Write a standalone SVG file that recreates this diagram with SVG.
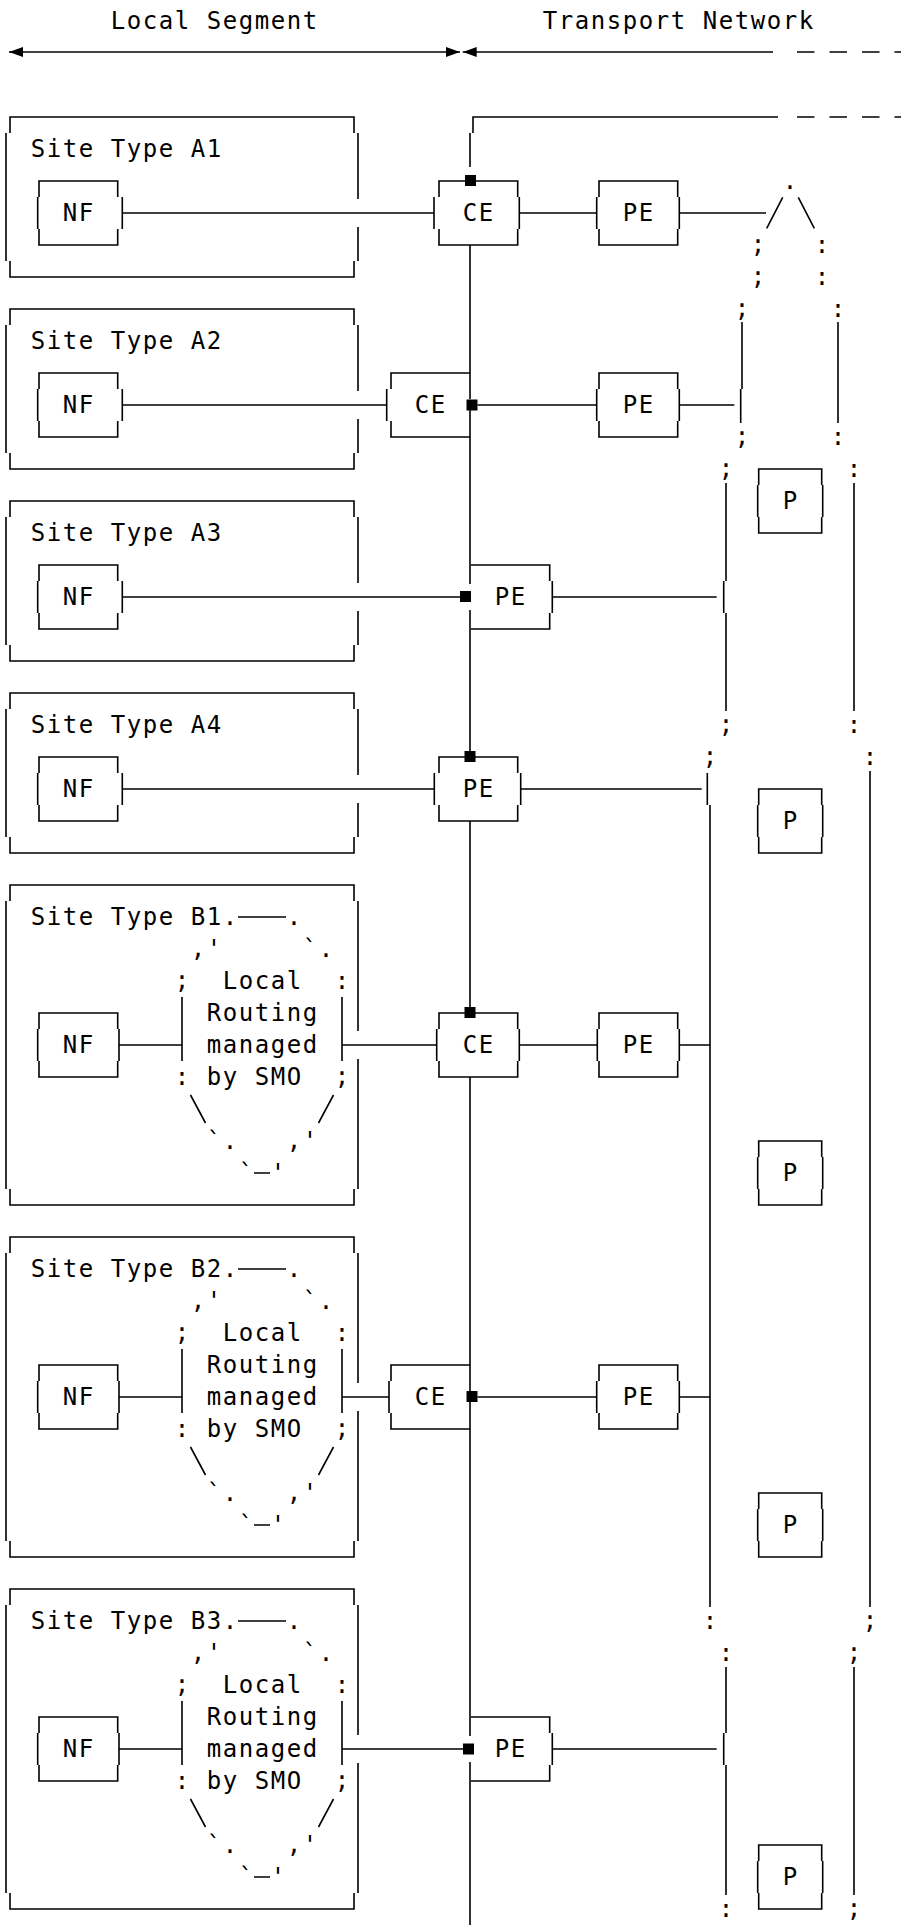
<svg xmlns="http://www.w3.org/2000/svg" width="901" height="1925" viewBox="0 0 901 1925">
<defs>
<style>
.ln{fill:none;stroke:#000;stroke-width:1.6}
.dash{fill:none;stroke:#000;stroke-width:1.6;stroke-dasharray:17.5 15}
.t{font-family:"DejaVu Sans Mono","Liberation Mono",monospace;font-size:24px;letter-spacing:1.55px;fill:#000}
.mk{fill:#000}
</style>
<marker id="ah" viewBox="0 0 14 10" refX="14" refY="5" markerWidth="14" markerHeight="10" markerUnits="userSpaceOnUse" orient="auto-start-reverse"><path d="M0,0 L14,5 L0,10 Z" fill="#000"/></marker>
</defs>
<rect width="901" height="1925" fill="#fff"/>

<g id="header">
<text class="t" x="110.8" y="29.4">Local Segment</text>
<text class="t" x="542.8" y="29.4">Transport Network</text>
<path class="ln" d="M9,52H460" marker-start="url(#ah)" marker-end="url(#ah)"/>
<path class="ln" d="M462.7,52H773" marker-start="url(#ah)"/>
<path class="dash" d="M797,52H901"/>
</g>

<!-- Site A1 -->
<g id="site-a1">
<path class="ln" d="M10,133V117H354V133M10,261V277H354V261M6,133V261M358,133V199M358,227V261"/>
<text class="t" x="30.8" y="157.4">Site Type A1</text>
</g>
<g id="nf-a1">
<path class="ln" d="M39,197V181H117.7V197M39,229V245H117.7V229M37.7,197V229M122.3,197V229"/>
<text class="t" x="62.8" y="221.4">NF</text>
</g>
<g id="ce-a1">
<path class="ln" d="M439,197V181H517.7V197M439,229V245H517.7V229M434,197V229M519.3,197V229"/>
<text class="t" x="462.8" y="221.4">CE</text>
</g>
<g id="pe-a1">
<path class="ln" d="M599,197V181H677.7V197M599,229V245H677.7V229M596.7,197V229M679.3,197V229"/>
<text class="t" x="622.8" y="221.4">PE</text>
</g>

<!-- Site A2 -->
<g id="site-a2">
<path class="ln" d="M10,325V309H354V325M10,453V469H354V453M6,325V453M358,325V391M358,419V453"/>
<text class="t" x="30.8" y="349.4">Site Type A2</text>
</g>
<g id="nf-a2">
<path class="ln" d="M39,389V373H117.7V389M39,421V437H117.7V421M37.7,389V421M122.3,389V421"/>
<text class="t" x="62.8" y="413.4">NF</text>
</g>
<g id="ce-a2">
<path class="ln" d="M391,389V373H470M391,421V437H470M386.7,389V421"/>
<text class="t" x="414.8" y="413.4">CE</text>
</g>
<g id="pe-a2">
<path class="ln" d="M599,389V373H677.7V389M599,421V437H677.7V421M596.7,389V421M679.3,389V421"/>
<text class="t" x="622.8" y="413.4">PE</text>
</g>

<!-- Site A3 -->
<g id="site-a3">
<path class="ln" d="M10,517V501H354V517M10,645V661H354V645M6,517V645M358,517V583M358,611V645"/>
<text class="t" x="30.8" y="541.4">Site Type A3</text>
</g>
<g id="nf-a3">
<path class="ln" d="M39,581V565H117.7V581M39,613V629H117.7V613M37.7,581V613M122.3,581V613"/>
<text class="t" x="62.8" y="605.4">NF</text>
</g>
<g id="pe-a3">
<path class="ln" d="M471,565H549.7V581M471,629H549.7V613M552.3,581V613"/>
<text class="t" x="494.8" y="605.4">PE</text>
</g>

<!-- Site A4 -->
<g id="site-a4">
<path class="ln" d="M10,709V693H354V709M10,837V853H354V837M6,709V837M358,709V775M358,803V837"/>
<text class="t" x="30.8" y="733.4">Site Type A4</text>
</g>
<g id="nf-a4">
<path class="ln" d="M39,773V757H117.7V773M39,805V821H117.7V805M37.7,773V805M122.3,773V805"/>
<text class="t" x="62.8" y="797.4">NF</text>
</g>
<g id="pe-a4">
<path class="ln" d="M439,773V757H517.7V773M439,805V821H517.7V805M434.3,773V805M520.7,773V805"/>
<text class="t" x="462.8" y="797.4">PE</text>
</g>

<!-- Site B1 -->
<g id="site-b1">
<path class="ln" d="M10,901V885H354V901M10,1189V1205H354V1189M6,901V1189M358,901V1031M358,1059V1189"/>
<text class="t" x="30.8" y="925.4">Site Type B1</text>
</g>
<g id="nf-b1">
<path class="ln" d="M39,1029V1013H117.7V1029M39,1061V1077H117.7V1061M37.7,1029V1061M119,1029V1061"/>
<text class="t" x="62.8" y="1053.4">NF</text>
</g>
<g id="local-routing-b1">
<path class="ln" d="M238,917H286M182,997V1061M342,997V1061M190.5,1095L205.5,1123M333.5,1095L318.5,1123M254,1173H270"/>
<text class="t" x="222.8" y="925.4">.</text><text class="t" x="286.8" y="925.4">.</text>
<text class="t" x="190.8" y="957.4">,</text><text class="t" x="206.8" y="957.4">'</text><text class="t" x="302.8" y="957.4">`</text><text class="t" x="318.8" y="957.4">.</text>
<text class="t" x="174.8" y="989.4">;</text><text class="t" x="222.8" y="989.4">Local</text><text class="t" x="334.8" y="989.4">:</text>
<text class="t" x="206.8" y="1021.4">Routing</text>
<text class="t" x="206.8" y="1053.4">managed</text>
<text class="t" x="174.8" y="1085.4">:</text><text class="t" x="206.8" y="1085.4">by SMO</text><text class="t" x="334.8" y="1085.4">;</text>
<text class="t" x="206.8" y="1149.4">`</text><text class="t" x="222.8" y="1149.4">.</text><text class="t" x="286.8" y="1149.4">,</text><text class="t" x="302.8" y="1149.4">'</text>
<text class="t" x="238.8" y="1181.4">`</text><text class="t" x="270.8" y="1181.4">'</text>
</g>
<g id="ce-b1">
<path class="ln" d="M439,1029V1013H517.7V1029M439,1061V1077H517.7V1061M436.7,1029V1061M519.3,1029V1061"/>
<text class="t" x="462.8" y="1053.4">CE</text>
</g>
<g id="pe-b1">
<path class="ln" d="M599,1029V1013H677.7V1029M599,1061V1077H677.7V1061M597.3,1029V1061M679.3,1029V1061"/>
<text class="t" x="622.8" y="1053.4">PE</text>
</g>

<!-- Site B2 (352 below B1) -->
<g id="site-b2" transform="translate(0,352)">
<path class="ln" d="M10,901V885H354V901M10,1189V1205H354V1189M6,901V1189M358,901V1031M358,1059V1189"/>
<text class="t" x="30.8" y="925.4">Site Type B2</text>
</g>
<g id="nf-b2" transform="translate(0,352)">
<path class="ln" d="M39,1029V1013H117.7V1029M39,1061V1077H117.7V1061M37.7,1029V1061M119,1029V1061"/>
<text class="t" x="62.8" y="1053.4">NF</text>
</g>
<g id="local-routing-b2" transform="translate(0,352)">
<path class="ln" d="M238,917H286M182,997V1061M342,997V1061M190.5,1095L205.5,1123M333.5,1095L318.5,1123M254,1173H270"/>
<text class="t" x="222.8" y="925.4">.</text><text class="t" x="286.8" y="925.4">.</text>
<text class="t" x="190.8" y="957.4">,</text><text class="t" x="206.8" y="957.4">'</text><text class="t" x="302.8" y="957.4">`</text><text class="t" x="318.8" y="957.4">.</text>
<text class="t" x="174.8" y="989.4">;</text><text class="t" x="222.8" y="989.4">Local</text><text class="t" x="334.8" y="989.4">:</text>
<text class="t" x="206.8" y="1021.4">Routing</text>
<text class="t" x="206.8" y="1053.4">managed</text>
<text class="t" x="174.8" y="1085.4">:</text><text class="t" x="206.8" y="1085.4">by SMO</text><text class="t" x="334.8" y="1085.4">;</text>
<text class="t" x="206.8" y="1149.4">`</text><text class="t" x="222.8" y="1149.4">.</text><text class="t" x="286.8" y="1149.4">,</text><text class="t" x="302.8" y="1149.4">'</text>
<text class="t" x="238.8" y="1181.4">`</text><text class="t" x="270.8" y="1181.4">'</text>
</g>
<g id="ce-b2">
<path class="ln" d="M391,1381V1365H470M391,1413V1429H470M389,1381V1413"/>
<text class="t" x="414.8" y="1405.4">CE</text>
</g>
<g id="pe-b2">
<path class="ln" d="M599,1381V1365H677.7V1381M599,1413V1429H677.7V1413M596.7,1381V1413M679.3,1381V1413"/>
<text class="t" x="622.8" y="1405.4">PE</text>
</g>

<!-- Site B3 (704 below B1) -->
<g id="site-b3" transform="translate(0,704)">
<path class="ln" d="M10,901V885H354V901M10,1189V1205H354V1189M6,901V1189M358,901V1031M358,1059V1189"/>
<text class="t" x="30.8" y="925.4">Site Type B3</text>
</g>
<g id="nf-b3" transform="translate(0,704)">
<path class="ln" d="M39,1029V1013H117.7V1029M39,1061V1077H117.7V1061M37.7,1029V1061M119,1029V1061"/>
<text class="t" x="62.8" y="1053.4">NF</text>
</g>
<g id="local-routing-b3" transform="translate(0,704)">
<path class="ln" d="M238,917H286M182,997V1061M342,997V1061M190.5,1095L205.5,1123M333.5,1095L318.5,1123M254,1173H270"/>
<text class="t" x="222.8" y="925.4">.</text><text class="t" x="286.8" y="925.4">.</text>
<text class="t" x="190.8" y="957.4">,</text><text class="t" x="206.8" y="957.4">'</text><text class="t" x="302.8" y="957.4">`</text><text class="t" x="318.8" y="957.4">.</text>
<text class="t" x="174.8" y="989.4">;</text><text class="t" x="222.8" y="989.4">Local</text><text class="t" x="334.8" y="989.4">:</text>
<text class="t" x="206.8" y="1021.4">Routing</text>
<text class="t" x="206.8" y="1053.4">managed</text>
<text class="t" x="174.8" y="1085.4">:</text><text class="t" x="206.8" y="1085.4">by SMO</text><text class="t" x="334.8" y="1085.4">;</text>
<text class="t" x="206.8" y="1149.4">`</text><text class="t" x="222.8" y="1149.4">.</text><text class="t" x="286.8" y="1149.4">,</text><text class="t" x="302.8" y="1149.4">'</text>
<text class="t" x="238.8" y="1181.4">`</text><text class="t" x="270.8" y="1181.4">'</text>
</g>
<g id="pe-b3">
<path class="ln" d="M471,1717H549.7V1733M471,1781H549.7V1765M552.3,1733V1765"/>
<text class="t" x="494.8" y="1757.4">PE</text>
</g>

<!-- P routers -->
<g id="p1"><path class="ln" d="M758.7,485V469H821.7V485M758.7,517V533H821.7V517M757.7,485V517M822.7,485V517"/><text class="t" x="782.8" y="509.4">P</text></g>
<g id="p2"><path class="ln" d="M758.7,805V789H821.7V805M758.7,837V853H821.7V837M757.7,805V837M822.7,805V837"/><text class="t" x="782.8" y="829.4">P</text></g>
<g id="p3"><path class="ln" d="M758.7,1157V1141H821.7V1157M758.7,1189V1205H821.7V1189M757.7,1157V1189M822.7,1157V1189"/><text class="t" x="782.8" y="1181.4">P</text></g>
<g id="p4"><path class="ln" d="M758.7,1509V1493H821.7V1509M758.7,1541V1557H821.7V1541M757.7,1509V1541M822.7,1509V1541"/><text class="t" x="782.8" y="1533.4">P</text></g>
<g id="p5"><path class="ln" d="M758.7,1861V1845H821.7V1861M758.7,1893V1909H821.7V1893M757.7,1861V1893M822.7,1861V1893"/><text class="t" x="782.8" y="1885.4">P</text></g>

<!-- Transport network outline -->
<g id="transport-network">
<path class="ln" d="M766.7,228.3L782.7,197.3M798.3,197.3L814.3,228.3M742,322V389M740.7,389V423M838,322V423M726,483V581M723.7,581V613M726,613V711M854,483V711M707.3,773V805M710,805V1607M870,771V1607M726,1667V1733M723.7,1733V1765M726,1765V1895M854,1667V1895"/>
<text class="t" x="782.8" y="189.4">.</text>
<text class="t" x="750.8" y="253.4">;</text><text class="t" x="814.8" y="253.4">:</text>
<text class="t" x="750.8" y="285.4">;</text><text class="t" x="814.8" y="285.4">:</text>
<text class="t" x="734.8" y="317.4">;</text><text class="t" x="830.8" y="317.4">:</text>
<text class="t" x="734.8" y="445.4">;</text><text class="t" x="830.8" y="445.4">:</text>
<text class="t" x="718.8" y="477.4">;</text><text class="t" x="846.8" y="477.4">:</text>
<text class="t" x="718.8" y="733.4">;</text><text class="t" x="846.8" y="733.4">:</text>
<text class="t" x="702.8" y="765.4">;</text><text class="t" x="862.8" y="765.4">:</text>
<text class="t" x="702.8" y="1629.4">:</text><text class="t" x="862.8" y="1629.4">;</text>
<text class="t" x="718.8" y="1661.4">:</text><text class="t" x="846.8" y="1661.4">;</text>
<text class="t" x="718.8" y="1917.4">:</text><text class="t" x="846.8" y="1917.4">;</text>
</g>

<!-- Connectors -->
<g id="connectors">
<path class="ln" d="M778,117H473V133M470,133V167M470,245V399M470,410V584M470,610V751M470,821V1007M470,1077V1391M470,1402V1736M470,1762V1925"/>
<path class="dash" d="M797,117H901"/>
<path class="ln" d="M122.3,213H434M519.3,213H596.7M679.3,213H766"/>
<path class="ln" d="M122.3,405H386.7M477.5,405H596.7M679.3,405H734.3"/>
<path class="ln" d="M122.3,597H460M552.3,597H716.7"/>
<path class="ln" d="M122.3,789H434.3M520.7,789H701.7"/>
<path class="ln" d="M119,1045H182M342,1045H436.7M519.3,1045H597.3M679.3,1045H710"/>
<path class="ln" d="M119,1397H182M342,1397H389M477.5,1397H596.7M679.3,1397H710"/>
<path class="ln" d="M119,1749H182M342,1749H463M552.3,1749H716.7"/>
<rect class="mk" x="465" y="175" width="11" height="11"/>
<rect class="mk" x="466.5" y="399.5" width="11" height="11"/>
<rect class="mk" x="460" y="591" width="11" height="11"/>
<rect class="mk" x="464.5" y="751" width="11" height="11"/>
<rect class="mk" x="464.5" y="1007" width="11" height="11"/>
<rect class="mk" x="466.5" y="1391" width="11" height="11"/>
<rect class="mk" x="463" y="1743.5" width="11" height="11"/>
</g>
</svg>
